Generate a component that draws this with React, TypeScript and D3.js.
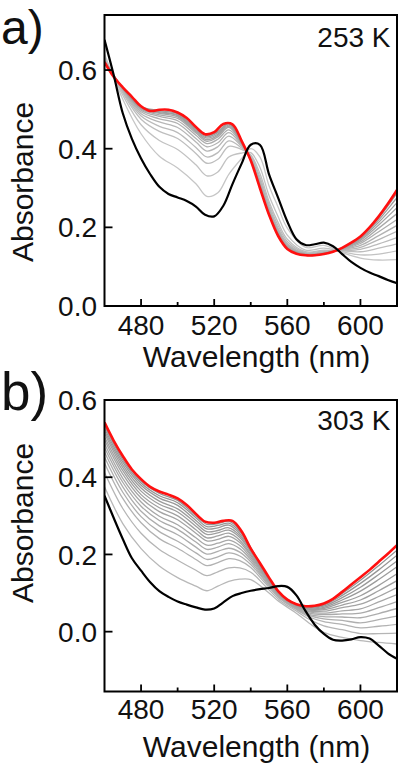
import React from 'react';
import * as d3 from 'd3';

// ---------- shared x categories ----------
const WL_5NM = [460, 465, 470, 475, 480, 485, 490, 495, 500, 505, 510, 515, 520, 525, 530, 535, 540, 545, 550, 555, 560, 565, 570, 575, 580, 585, 590, 595, 600, 605, 610, 615, 620];
const X_TICKS = [480, 520, 560, 600];
const X_MINOR_TICKS = [500, 540, 580];

// ---------- panel a (253 K) ----------
const BLACK_A = [0.677, 0.588, 0.49, 0.425, 0.375, 0.335, 0.303, 0.285, 0.276, 0.267, 0.253, 0.232, 0.228, 0.255, 0.31, 0.362, 0.41, 0.41, 0.335, 0.275, 0.215, 0.17, 0.155, 0.157, 0.161, 0.152, 0.132, 0.112, 0.097, 0.085, 0.076, 0.066, 0.058];
const RED_A = [0.62, 0.583, 0.556, 0.532, 0.508, 0.496, 0.499, 0.499, 0.492, 0.478, 0.455, 0.437, 0.442, 0.463, 0.462, 0.42, 0.37, 0.3, 0.232, 0.178, 0.145, 0.133, 0.129, 0.129, 0.132, 0.138, 0.148, 0.161, 0.177, 0.2, 0.228, 0.26, 0.295];
const GRAY_WL_A = [460, 470, 480, 490, 500, 510, 516, 522, 528, 535, 540, 545, 550, 555, 560, 570, 580, 590, 600, 610, 620];
const GRAY_A_01 = [0.641, 0.526, 0.438, 0.381, 0.351, 0.311, 0.279, 0.288, 0.335, 0.375, 0.4, 0.379, 0.306, 0.251, 0.198, 0.149, 0.154, 0.136, 0.122, 0.117, 0.118];
const GRAY_A_02 = [0.634, 0.536, 0.461, 0.421, 0.398, 0.359, 0.331, 0.341, 0.379, 0.389, 0.39, 0.353, 0.281, 0.227, 0.18, 0.142, 0.147, 0.138, 0.13, 0.132, 0.14];
const GRAY_A_03 = [0.63, 0.542, 0.475, 0.444, 0.426, 0.388, 0.363, 0.373, 0.406, 0.398, 0.384, 0.337, 0.266, 0.212, 0.17, 0.138, 0.142, 0.14, 0.138, 0.147, 0.158];
const GRAY_A_04 = [0.628, 0.545, 0.483, 0.457, 0.441, 0.403, 0.379, 0.39, 0.42, 0.402, 0.381, 0.328, 0.259, 0.204, 0.164, 0.136, 0.14, 0.141, 0.144, 0.158, 0.174];
const GRAY_A_05 = [0.626, 0.548, 0.489, 0.468, 0.454, 0.417, 0.394, 0.405, 0.432, 0.406, 0.378, 0.321, 0.252, 0.197, 0.159, 0.134, 0.138, 0.142, 0.149, 0.169, 0.19];
const GRAY_A_06 = [0.624, 0.55, 0.494, 0.476, 0.464, 0.426, 0.405, 0.415, 0.441, 0.409, 0.376, 0.316, 0.247, 0.193, 0.156, 0.133, 0.136, 0.143, 0.154, 0.179, 0.205];
const GRAY_A_07 = [0.623, 0.552, 0.498, 0.482, 0.471, 0.434, 0.413, 0.424, 0.448, 0.412, 0.374, 0.312, 0.243, 0.189, 0.153, 0.132, 0.135, 0.144, 0.159, 0.189, 0.22];
const GRAY_A_08 = [0.622, 0.553, 0.501, 0.486, 0.477, 0.44, 0.419, 0.43, 0.454, 0.413, 0.373, 0.308, 0.24, 0.186, 0.151, 0.131, 0.134, 0.145, 0.163, 0.198, 0.235];
const GRAY_A_09 = [0.622, 0.554, 0.502, 0.49, 0.481, 0.443, 0.423, 0.434, 0.457, 0.415, 0.372, 0.306, 0.238, 0.184, 0.149, 0.131, 0.134, 0.146, 0.167, 0.206, 0.25];
const GRAY_A_10 = [0.621, 0.554, 0.504, 0.492, 0.484, 0.446, 0.427, 0.437, 0.46, 0.415, 0.372, 0.305, 0.236, 0.182, 0.148, 0.13, 0.133, 0.147, 0.17, 0.213, 0.263];
const GRAY_A_11 = [0.621, 0.555, 0.505, 0.494, 0.486, 0.449, 0.43, 0.441, 0.463, 0.416, 0.371, 0.303, 0.235, 0.181, 0.147, 0.13, 0.133, 0.147, 0.172, 0.219, 0.276];
const GRAY_A_12 = [0.62, 0.555, 0.507, 0.497, 0.489, 0.452, 0.433, 0.444, 0.465, 0.417, 0.371, 0.302, 0.233, 0.18, 0.146, 0.129, 0.132, 0.148, 0.175, 0.224, 0.287];
const GRAYS_A = [GRAY_A_01, GRAY_A_02, GRAY_A_03, GRAY_A_04, GRAY_A_05, GRAY_A_06, GRAY_A_07, GRAY_A_08, GRAY_A_09, GRAY_A_10, GRAY_A_11, GRAY_A_12];
const Y_TICKS_A = [0.0, 0.2, 0.4, 0.6];

// ---------- panel b (303 K) ----------
const BLACK_B = [0.352, 0.295, 0.24, 0.19, 0.158, 0.128, 0.105, 0.09, 0.078, 0.07, 0.063, 0.057, 0.06, 0.076, 0.092, 0.1, 0.106, 0.11, 0.113, 0.118, 0.116, 0.094, 0.053, 0.018, -0.006, -0.021, -0.023, -0.02, -0.014, -0.018, -0.036, -0.056, -0.07];
const RED_B = [0.542, 0.495, 0.455, 0.42, 0.395, 0.375, 0.363, 0.355, 0.345, 0.328, 0.305, 0.285, 0.282, 0.287, 0.287, 0.26, 0.215, 0.178, 0.14, 0.105, 0.083, 0.071, 0.066, 0.067, 0.073, 0.085, 0.103, 0.122, 0.141, 0.16, 0.181, 0.202, 0.224];
const GRAY_WL_B = [460, 470, 480, 490, 500, 510, 516, 522, 528, 534, 540, 548, 556, 564, 572, 580, 590, 600, 610, 620];
const GRAY_B_01 = [0.375, 0.28, 0.215, 0.17, 0.14, 0.118, 0.106, 0.118, 0.13, 0.136, 0.135, 0.108, 0.076, 0.051, 0.022, -0.002, -0.015, -0.023, -0.028, -0.032];
const GRAY_B_02 = [0.412, 0.319, 0.255, 0.213, 0.185, 0.159, 0.145, 0.155, 0.165, 0.165, 0.154, 0.118, 0.081, 0.056, 0.032, 0.015, 0.005, -0.005, -0.005, -0.004];
const GRAY_B_03 = [0.437, 0.345, 0.282, 0.241, 0.216, 0.187, 0.171, 0.179, 0.189, 0.184, 0.166, 0.125, 0.085, 0.06, 0.038, 0.026, 0.019, 0.01, 0.014, 0.019];
const GRAY_B_04 = [0.452, 0.361, 0.298, 0.259, 0.234, 0.204, 0.187, 0.194, 0.204, 0.196, 0.174, 0.13, 0.087, 0.062, 0.042, 0.033, 0.029, 0.023, 0.031, 0.04];
const GRAY_B_05 = [0.465, 0.375, 0.312, 0.274, 0.251, 0.219, 0.201, 0.208, 0.216, 0.206, 0.181, 0.133, 0.089, 0.063, 0.045, 0.039, 0.038, 0.036, 0.047, 0.06];
const GRAY_B_06 = [0.477, 0.387, 0.325, 0.288, 0.265, 0.232, 0.213, 0.219, 0.228, 0.215, 0.187, 0.137, 0.091, 0.065, 0.048, 0.044, 0.046, 0.048, 0.062, 0.078];
const GRAY_B_07 = [0.487, 0.397, 0.336, 0.299, 0.277, 0.243, 0.224, 0.229, 0.237, 0.223, 0.192, 0.14, 0.092, 0.066, 0.051, 0.048, 0.054, 0.059, 0.077, 0.096];
const GRAY_B_08 = [0.497, 0.408, 0.346, 0.311, 0.29, 0.255, 0.235, 0.239, 0.247, 0.231, 0.197, 0.142, 0.094, 0.068, 0.053, 0.053, 0.062, 0.071, 0.091, 0.114];
const GRAY_B_09 = [0.505, 0.417, 0.355, 0.321, 0.3, 0.264, 0.243, 0.248, 0.255, 0.237, 0.201, 0.145, 0.095, 0.069, 0.056, 0.057, 0.069, 0.082, 0.106, 0.132];
const GRAY_B_10 = [0.514, 0.425, 0.364, 0.33, 0.31, 0.273, 0.252, 0.256, 0.263, 0.244, 0.206, 0.147, 0.096, 0.07, 0.058, 0.06, 0.076, 0.093, 0.12, 0.15];
const GRAY_B_11 = [0.52, 0.432, 0.372, 0.338, 0.318, 0.281, 0.259, 0.262, 0.269, 0.249, 0.209, 0.149, 0.097, 0.071, 0.059, 0.063, 0.082, 0.105, 0.135, 0.168];
const GRAY_B_12 = [0.527, 0.439, 0.379, 0.346, 0.327, 0.288, 0.266, 0.269, 0.276, 0.254, 0.212, 0.151, 0.098, 0.072, 0.061, 0.066, 0.088, 0.115, 0.148, 0.183];
const GRAY_B_13 = [0.533, 0.445, 0.385, 0.352, 0.334, 0.295, 0.272, 0.275, 0.281, 0.259, 0.215, 0.152, 0.099, 0.073, 0.063, 0.069, 0.094, 0.125, 0.16, 0.198];
const GRAY_B_14 = [0.538, 0.451, 0.39, 0.358, 0.34, 0.3, 0.278, 0.28, 0.286, 0.263, 0.218, 0.154, 0.099, 0.073, 0.064, 0.071, 0.099, 0.133, 0.171, 0.211];
const GRAYS_B = [GRAY_B_01, GRAY_B_02, GRAY_B_03, GRAY_B_04, GRAY_B_05, GRAY_B_06, GRAY_B_07, GRAY_B_08, GRAY_B_09, GRAY_B_10, GRAY_B_11, GRAY_B_12, GRAY_B_13, GRAY_B_14];
const Y_TICKS_B = [0.0, 0.2, 0.4, 0.6];

const FONT = '"Liberation Sans", Arial, Helvetica, sans-serif';

type PanelProps = {
  id: string;
  top: number;
  bottom: number;
  yDomain: [number, number];
  yTicks: number[];
  black: number[];
  red: number[];
  grayWl: number[];
  grays: number[][];
  grayLight: string;
  grayDark: string;
  letter: string;
  letterY: number;
  letterSize: number;
  temp: string;
  tempY: number;
  xLabelY: number;
  xTitleY: number;
  yTitleCenter: number;
};

function Panel(p: PanelProps) {
  const x = d3.scaleLinear().domain([460, 620]).range([104.5, 397]);
  const y = d3.scaleLinear().domain(p.yDomain).range([p.bottom, p.top]);
  const mk = (wl: number[]) =>
    d3
      .line<number>()
      .x((_, i) => x(wl[i]))
      .y((d) => y(d))
      .curve(d3.curveCatmullRom.alpha(0.5));
  const grayColor = d3.interpolateRgb(p.grayLight, p.grayDark);
  const n = p.grays.length;
  const left = 104.5;
  const right = 397;
  return (
    <g>
      <defs>
        <clipPath id={`clip-${p.id}`}>
          <rect x={left} y={p.top} width={right - left} height={p.bottom - p.top} />
        </clipPath>
      </defs>
      <g clipPath={`url(#clip-${p.id})`} fill="none">
        {p.grays.map((g, i) => (
          <path
            key={i}
            d={mk(p.grayWl)(g) || ''}
            stroke={grayColor(n > 1 ? i / (n - 1) : 0)}
            strokeWidth={1.3}
          />
        ))}
        <path d={mk(WL_5NM)(p.red) || ''} stroke="#ff1010" strokeWidth={2.6} />
        <path d={mk(WL_5NM)(p.black) || ''} stroke="#000" strokeWidth={2.2} />
      </g>
      <rect x={left} y={p.top} width={right - left} height={p.bottom - p.top} fill="none" stroke="#000" strokeWidth={2} />
      {X_TICKS.map((t) => (
        <line key={`xt${t}`} x1={x(t)} x2={x(t)} y1={p.bottom} y2={p.bottom - 7} stroke="#000" strokeWidth={1.8} />
      ))}
      {X_MINOR_TICKS.map((t) => (
        <line key={`xm${t}`} x1={x(t)} x2={x(t)} y1={p.bottom} y2={p.bottom - 4} stroke="#000" strokeWidth={1.8} />
      ))}
      {p.yTicks.map((t) => (
        <line key={`yt${t}`} x1={left} x2={left + 8} y1={y(t)} y2={y(t)} stroke="#000" strokeWidth={1.8} />
      ))}
      <g fontFamily={FONT} fill="#111">
        {p.yTicks.map((t) => (
          <text key={`yl${t}`} x={97} y={y(t)} dy="0.36em" textAnchor="end" fontSize={28}>
            {d3.format('.1f')(t)}
          </text>
        ))}
        {X_TICKS.map((t) => (
          <text key={`xl${t}`} x={x(t)} y={p.xLabelY} textAnchor="middle" fontSize={28}>
            {t}
          </text>
        ))}
        <text x={256.5} y={p.xTitleY} textAnchor="middle" fontSize={30}>
          Wavelength (nm)
        </text>
        <text transform={`translate(33,${p.yTitleCenter}) rotate(-90)`} textAnchor="middle" fontSize={30}>
          Absorbance
        </text>
        <text x={390.5} y={p.tempY} textAnchor="end" fontSize={28}>
          {p.temp}
        </text>
        <text x={1} y={p.letterY} fontSize={p.letterSize}>
          {p.letter}
        </text>
      </g>
    </g>
  );
}

export default function App() {
  return (
    <svg
      width={400}
      height={764}
      viewBox="0 0 400 764"
      style={{ position: 'absolute', left: 0, top: 0, background: '#fff' }}
    >
      <rect x={0} y={0} width={400} height={764} fill="#fff" />
      <Panel
        id="a"
        top={15}
        bottom={306}
        yDomain={[0, 0.74]}
        yTicks={Y_TICKS_A}
        black={BLACK_A}
        red={RED_A}
        grayWl={GRAY_WL_A}
        grays={GRAYS_A}
        grayLight="#c6c6c6"
        grayDark="#999999"
        letter="a)"
        letterY={44}
        letterSize={48}
        temp="253 K"
        tempY={46.5}
        xLabelY={335}
        xTitleY={367}
        yTitleCenter={182}
      />
      <Panel
        id="b"
        top={400}
        bottom={691.5}
        yDomain={[-0.155, 0.6]}
        yTicks={Y_TICKS_B}
        black={BLACK_B}
        red={RED_B}
        grayWl={GRAY_WL_B}
        grays={GRAYS_B}
        grayLight="#b8b8b8"
        grayDark="#939393"
        letter="b)"
        letterY={410}
        letterSize={53}
        temp="303 K"
        tempY={430}
        xLabelY={718.5}
        xTitleY={756.5}
        yTitleCenter={523}
      />
    </svg>
  );
}
